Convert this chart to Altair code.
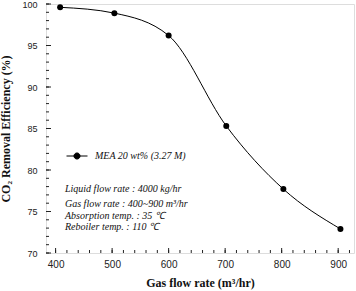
import altair as alt
import pandas as pd

# Measured CO2 removal efficiency vs. gas flow rate (MEA 20 wt%)
gas_flow = [408, 504, 600, 702, 803, 904]
efficiency = [99.6, 98.9, 96.2, 85.3, 77.7, 72.9]
series_name = "MEA 20 wt% (3.27 M)"

x_major = [400, 500, 600, 700, 800, 900]
x_minor = list(range(400, 921, 20))
y_major = [70, 75, 80, 85, 90, 95, 100]
y_minor = list(range(70, 101, 1))

notes = [
    "Liquid flow rate : 4000 kg/hr",
    "Gas flow rate : 400~900 m³/hr",
    "Absorption temp. : 35 ℃",
    "Reboiler temp. : 110 ℃",
]

SERIF = "Liberation Serif, Times New Roman, serif"
SANS = "Liberation Sans, Arial, sans-serif"

W, H = 308, 249
X_DOMAIN = [383, 928]
Y_DOMAIN = [70, 100]

df = pd.DataFrame({"flow": gas_flow, "eff": efficiency, "series": series_name})

xs = alt.Scale(domain=X_DOMAIN, nice=False, zero=False)
ys = alt.Scale(domain=Y_DOMAIN, nice=False, zero=False)

x_axis = alt.Axis(values=x_major, title="Gas flow rate (m³/hr)", grid=False,
                  ticks=False, domain=False, labelPadding=6, format="d",
                  labelFont=SANS, labelFontSize=10, labelColor="#222",
                  titleFont=SERIF, titleFontWeight="bold",
                  titleFontSize=12, titleColor="#111", titlePadding=8)
y_axis = alt.Axis(values=y_major, title="CO₂ Removal Efficiency (%)", grid=False,
                  ticks=False, domain=False, labelPadding=9, format="d",
                  labelFont=SANS, labelFontSize=9, labelColor="#222",
                  titleFont=SERIF, titleFontWeight="bold",
                  titleFontSize=12, titleColor="#111", titlePadding=9)

color = alt.Color(
    "series:N",
    scale=alt.Scale(range=["black"]),
    legend=alt.Legend(
        title=None, orient="none", legendX=20, legendY=141,
        symbolType="M-1,0H1M-0.29,0A0.29,0.29,0,1,1,0.29,0A0.29,0.29,0,1,1,-0.29,0Z",
        symbolSize=441, symbolStrokeWidth=1, symbolFillColor="black",
        symbolStrokeColor="black", labelFont=SERIF,
        labelFontStyle="italic", labelFontSize=10, labelColor="#111",
        labelOffset=7,
    ),
)

line = alt.Chart(df).mark_line(interpolate="monotone", strokeWidth=1).encode(
    x=alt.X("flow:Q", scale=xs, axis=x_axis),
    y=alt.Y("eff:Q", scale=ys, axis=y_axis),
    color=color,
)
points = alt.Chart(df).mark_point(filled=True, size=36, opacity=1).encode(
    x=alt.X("flow:Q", scale=xs),
    y=alt.Y("eff:Q", scale=ys),
    color=color,
)

# inward tick marks along the bottom and left frame
def x_ticks(vals, length):
    return alt.Chart(pd.DataFrame({"v": vals})).mark_rule(color="#222", strokeWidth=1).encode(
        x=alt.X("v:Q", scale=xs), y=alt.value(H), y2=alt.value(H - length))

def y_ticks(vals, length):
    return alt.Chart(pd.DataFrame({"v": vals})).mark_rule(color="#222", strokeWidth=1).encode(
        y=alt.Y("v:Q", scale=ys), x=alt.value(0), x2=alt.value(length))

ticks = [x_ticks(x_minor, 3), x_ticks(x_major, 5), y_ticks(y_minor, 3), y_ticks(y_major, 5)]

note_layers = []
for text, ypos in zip(notes, [185, 200, 212, 223]):
    note_layers.append(
        alt.Chart(pd.DataFrame({"t": [text]})).mark_text(
            align="left", baseline="middle", font=SERIF,
            fontStyle="italic", fontSize=10, color="#111",
        ).encode(x=alt.value(19), y=alt.value(ypos), text="t:N")
    )

chart = alt.layer(*ticks, line, points, *note_layers).properties(
    width=W, height=H,
    autosize=alt.AutoSizeParams(type="none"),
    padding={"left": 46, "top": 4, "right": 2, "bottom": 38},
).configure_view(stroke="#222", strokeWidth=1.5).configure(background="white")

chart.save("out.html", embed_options={"renderer": "svg", "actions": False})
